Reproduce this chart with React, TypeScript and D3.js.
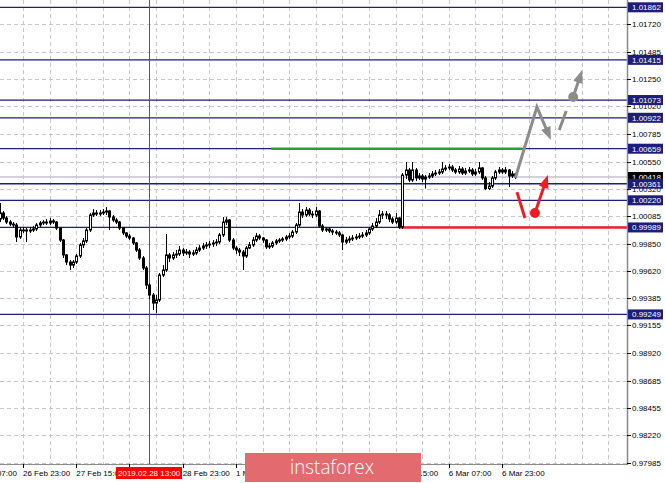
import * as d3 from "d3";

const W = 665;
const H = 483;
const PLOT_R = 627;
const PLOT_B = 464;

// hourly EURUSD-like bars, index 0 = 26 Feb 16:00
const firstOpen = 1.00061;
const closes = [
  1.00112, 1.00069, 1.00035, 1.00018, 1.0001, 0.99908, 0.99967, 0.99967, 0.99959, 0.99967,
  0.99976, 1.0001, 1.00027, 1.00035, 1.00027, 1.00044, 1.00035, 0.99984, 0.99882, 0.99755,
  0.99695, 0.99669, 0.99695, 0.99746, 0.9984, 0.99874, 0.99967, 1.00095, 1.00112, 1.00103,
  1.00112, 1.0012, 1.00129, 1.00078, 1.00052, 1.00035, 0.99984, 0.99942, 0.99916, 0.99899,
  0.99857, 0.99797, 0.99729, 0.99644, 0.99499, 0.99414, 0.99346, 0.99372, 0.99584, 0.99627,
  0.99755, 0.99729, 0.99755, 0.99763, 0.99797, 0.99772, 0.9978, 0.99763, 0.99772, 0.99797,
  0.99814, 0.99831, 0.9984, 0.99848, 0.99857, 0.99865, 0.99925, 1.00035, 1.00052, 0.99882,
  0.99814, 0.99797, 0.9978, 0.99746, 0.99814, 0.9984, 0.99882, 0.99916, 0.99899, 0.99882,
  0.99823, 0.99831, 0.99857, 0.99874, 0.99882, 0.99891, 0.99908, 0.99916, 0.9995, 1.0001,
  1.0012, 1.00095, 1.00137, 1.00103, 1.00095, 1.00129, 1.00001, 0.99967, 0.99976, 0.99959,
  0.9995, 0.99942, 0.99925, 0.99865, 0.99882, 0.99891, 0.99899, 0.99908, 0.99916, 0.99925,
  0.99942, 0.99976, 1.00001, 1.00035, 1.00095, 1.00103, 1.00095, 1.00061, 1.00035, 1.00069,
  0.99993, 1.00435, 1.00478, 1.00393, 1.00478, 1.0041, 1.00427, 1.00401, 1.00418, 1.00427,
  1.00444, 1.00452, 1.00461, 1.00486, 1.00495, 1.00503, 1.00478, 1.00461, 1.00486, 1.00452,
  1.00469, 1.00478, 1.00444, 1.00461, 1.00495, 1.0041, 1.0032, 1.00341, 1.0041, 1.00461,
  1.00478, 1.00461, 1.00478, 1.00427, 1.00444, 1.00418,
];
const highs = [
  1.00197, 1.00129, 1.00086, 1.00052, 1.00035, 1.00027, 0.99993, 0.99993, 0.99984, 0.99993,
  1.00001, 1.00027, 1.00044, 1.00052, 1.00061, 1.00069, 1.00061, 1.00044, 0.99993, 0.99891,
  0.99763, 0.99712, 0.99712, 0.99763, 0.99857, 0.99899, 0.99984, 1.00112, 1.00146, 1.00137,
  1.00137, 1.00146, 1.00163, 1.00137, 1.00095, 1.00069, 1.00044, 0.99993, 0.9995, 0.99933,
  0.99908, 0.99865, 0.99814, 0.99746, 0.99661, 0.99516, 0.99431, 0.99414, 0.99601, 0.99669,
  0.99933, 0.99772, 0.9978, 0.99797, 0.99831, 0.99814, 0.99806, 0.99797, 0.99797, 0.99823,
  0.9984, 0.99857, 0.99865, 0.99874, 0.99882, 0.99891, 0.99942, 1.00078, 1.00078, 1.00061,
  0.99899, 0.99831, 0.99814, 0.99797, 0.99831, 0.99865, 0.99908, 0.99942, 0.99933, 0.99908,
  0.99891, 0.99857, 0.99874, 0.99891, 0.99899, 0.99908, 0.99925, 0.99942, 0.99967, 1.00027,
  1.00197, 1.00146, 1.00163, 1.00154, 1.00129, 1.00163, 1.00137, 1.00018, 0.99993, 0.99993,
  0.99976, 0.99967, 0.99959, 0.99933, 0.99908, 0.99916, 0.99925, 0.99933, 0.99942, 0.9995,
  0.99967, 0.99993, 1.00027, 1.00069, 1.00137, 1.00129, 1.00129, 1.00112, 1.00078, 1.00112,
  1.00078, 1.00452, 1.00546, 1.00495, 1.00546, 1.00495, 1.00452, 1.00444, 1.00435, 1.00452,
  1.00469, 1.00478, 1.00486, 1.00546, 1.0052, 1.00529, 1.0052, 1.00495, 1.00512, 1.00503,
  1.00495, 1.00503, 1.00495, 1.00486, 1.00546, 1.00503, 1.00427, 1.00376, 1.00427, 1.00478,
  1.00503, 1.00495, 1.00503, 1.00486, 1.00469, 1.00452,
];
const lows = [
  1.00035, 1.00052, 1.00018, 1.00001, 0.99993, 0.99865, 0.99891, 0.99942, 0.99865, 0.99942,
  0.9995, 0.99959, 0.99993, 1.0001, 1.0001, 1.0001, 1.00018, 0.99967, 0.99865, 0.99729,
  0.99669, 0.99627, 0.99644, 0.99678, 0.99729, 0.99814, 0.99857, 0.9995, 1.00078, 1.00086,
  1.00086, 1.00095, 1.00095, 0.99967, 1.00035, 1.00018, 0.99967, 0.99925, 0.99899, 0.99882,
  0.9984, 0.9978, 0.99712, 0.99627, 0.99465, 0.9938, 0.99287, 0.99261, 0.99355, 0.99567,
  0.9961, 0.99695, 0.99712, 0.99729, 0.99746, 0.99746, 0.99755, 0.99729, 0.99746, 0.99755,
  0.9978, 0.99797, 0.99806, 0.99814, 0.99823, 0.99831, 0.99848, 0.99908, 1.0001, 0.99865,
  0.99797, 0.99763, 0.99746, 0.99627, 0.99729, 0.99806, 0.99823, 0.99865, 0.99882, 0.99857,
  0.99806, 0.99806, 0.99814, 0.9984, 0.99857, 0.99865, 0.99874, 0.99891, 0.99899, 0.99933,
  0.99993, 1.00069, 1.00078, 1.00086, 1.00069, 1.00078, 0.99984, 0.9995, 0.9995, 0.99942,
  0.99925, 0.99925, 0.99908, 0.99797, 0.99848, 0.99857, 0.99874, 0.99882, 0.99891, 0.99899,
  0.99908, 0.99925, 0.99959, 0.99984, 1.00018, 1.00061, 1.00061, 1.00035, 1.00018, 1.00018,
  0.99976, 0.99976, 1.00401, 1.00376, 1.00376, 1.00384, 1.00393, 1.00376, 1.0032, 1.00401,
  1.0041, 1.00427, 1.00435, 1.00444, 1.00469, 1.00478, 1.00461, 1.00444, 1.00444, 1.00435,
  1.00435, 1.00452, 1.00427, 1.00427, 1.00444, 1.00393, 1.00307, 1.00307, 1.00324, 1.00393,
  1.00444, 1.00444, 1.00444, 1.00333, 1.0041, 1.00401,
];

const gridPrices = [
  1.0172, 1.01485, 1.0125, 1.0102, 1.00785, 1.0055, 1.0032, 1.00085, 0.9985, 0.9962,
  0.99385, 0.99155, 0.9892, 0.98685, 0.98455, 0.9822, 0.97985,
];
const levelPrices = [1.01862, 1.01415, 1.01073, 1.00922, 1.00659, 1.00361, 1.0022, 0.99989, 0.99249];
const bidPrice = 1.00418;
const greenLevel = { price: 1.00659, from: 81.6, to: 157.3 };
const redLevel = { price: 0.99989, from: 120.3 };

// time axis ticks every 16 bars; labels hidden under the date box / watermark are left blank
const timeTickIdx = [-9, 7, 23, 39, 55, 71, 87, 103, 119, 135, 151];
const timeTickLabels = [
  "26 Feb 07:00", "26 Feb 23:00", "27 Feb 15:00", "", "28 Feb 23:00",
  "1 Mar 15:00", "", "", "5 Mar 15:00", "6 Mar 07:00", "6 Mar 23:00",
];
const crossIdx = 45;
const crossLabel = "2019.02.28 13:00";

// forecast arrows, [bar index, price]
const grayZig: [number, number][] = [[155, 1.0041], [161.5, 1.01014], [165.7, 1.00733]];
const grayDash: [number, number][] = [[168.2, 1.00818], [170.3, 1.0098]];
const grayDot: [number, number] = [172.4, 1.01099];
const grayTip: [number, number] = [175.1, 1.01328];
const redStroke: [number, number][] = [[155.5, 1.0029], [157.9, 1.00069]];
const redDot: [number, number] = [160.9, 1.00112];
const redTip: [number, number] = [164.8, 1.00435];

const x = d3.scaleLinear().domain([7, 151]).range([23, 502]);
const y = d3.scaleLinear().domain([0.97985, 1.0172]).range([463, 24]);

const NAVY = "#1d1d7a";
const FONT = "'Liberation Sans', Arial, sans-serif";

function head(from: [number, number], to: [number, number], len = 13, half = 5) {
  const dx = to[0] - from[0];
  const dy = to[1] - from[1];
  const d = Math.hypot(dx, dy) || 1;
  const ux = dx / d, uy = dy / d;
  const bx = to[0] - ux * len, by = to[1] - uy * len;
  return {
    tri: `M${to[0]},${to[1]}L${bx - uy * half},${by + ux * half}L${bx + uy * half},${by - ux * half}Z`,
    base: [bx + ux * 2, by + uy * 2] as [number, number],
  };
}

const px = (p: [number, number]): [number, number] => [x(p[0]), y(p[1])];

export default function App() {
  const line = d3.line<[number, number]>();

  const zig = grayZig.map(px);
  const zigHead = head(zig[1], zig[2]);
  const zigLine = line([zig[0], zig[1], zigHead.base]);
  const gDot = px(grayDot);
  const gTip = px(grayTip);
  const gHead = head(gDot, gTip);
  const rDot = px(redDot);
  const rTip = px(redTip);
  const rHead = head(rDot, rTip);

  const vGrid = d3.range(-1, 200, 8).filter((i) => x(i) < PLOT_R);

  return (
    <svg width={W} height={H} style={{ position: "absolute", left: 0, top: 0, background: "#fff" }} fontFamily={FONT}>
      <defs>
        <clipPath id="plot">
          <rect x={0} y={0} width={PLOT_R} height={PLOT_B} />
        </clipPath>
        <clipPath id="lbl27">
          <rect x={0} y={PLOT_B} width={116} height={H - PLOT_B} />
        </clipPath>
      </defs>
      <g clipPath="url(#plot)">
        {gridPrices.map((p) => (
          <line key={"h" + p} x1={0} x2={PLOT_R} y1={Math.round(y(p)) + 0.5} y2={Math.round(y(p)) + 0.5}
            stroke="#c8c8c8" strokeDasharray="4,3" />
        ))}
        {vGrid.map((i) => (
          <line key={"v" + i} x1={Math.round(x(i)) + 0.5} x2={Math.round(x(i)) + 0.5} y1={0} y2={PLOT_B}
            stroke="#c8c8c8" strokeDasharray="4,3" />
        ))}
        <line x1={0} x2={PLOT_R} y1={y(bidPrice)} y2={y(bidPrice)} stroke="#c4c4c4" strokeWidth={1.5} />
        {levelPrices.map((p) => (
          <line key={"l" + p} x1={0} x2={PLOT_R} y1={y(p)} y2={y(p)} stroke={NAVY} strokeWidth={1.3} />
        ))}
        <line x1={x(greenLevel.from)} x2={x(greenLevel.to)} y1={y(greenLevel.price)} y2={y(greenLevel.price)}
          stroke="#21a23c" strokeWidth={2.5} />
        <line x1={x(redLevel.from)} x2={PLOT_R} y1={y(redLevel.price)} y2={y(redLevel.price)}
          stroke="#f2202c" strokeWidth={2.5} />
        <line x1={Math.round(x(crossIdx)) + 0.5} x2={Math.round(x(crossIdx)) + 0.5} y1={0} y2={PLOT_B}
          stroke="#e02020" strokeWidth={1} />

        {closes.map((c, i) => {
          const o = i === 0 ? firstOpen : closes[i - 1];
          const r = Math.round(x(i));
          const top = y(Math.max(o, c));
          const bot = y(Math.min(o, c));
          const bull = c >= o;
          return (
            <g key={"c" + i}>
              <line x1={r + 0.5} x2={r + 0.5} y1={y(highs[i])} y2={y(lows[i])} stroke="#000" strokeWidth={1} />
              <rect x={r - 0.5} y={top} width={2} height={Math.max(bot - top, 0.8)}
                fill={bull ? "#fff" : "#000"} stroke="#000" strokeWidth={1} />
            </g>
          );
        })}

        <path d={zigLine ?? ""} fill="none" stroke="#8c8c8c" strokeWidth={3} strokeLinejoin="miter" />
        <path d={zigHead.tri} fill="#8c8c8c" />
        <path d={line(grayDash.map(px)) ?? ""} stroke="#8c8c8c" strokeWidth={3} />
        <circle cx={gDot[0]} cy={gDot[1]} r={5} fill="#8c8c8c" />
        <path d={line([gDot, gHead.base]) ?? ""} stroke="#8c8c8c" strokeWidth={3} />
        <path d={gHead.tri} fill="#8c8c8c" />

        <path d={line(redStroke.map(px)) ?? ""} stroke="#ee1c25" strokeWidth={3} />
        <circle cx={rDot[0]} cy={rDot[1]} r={5} fill="#ee1c25" />
        <path d={line([rDot, rHead.base]) ?? ""} stroke="#ee1c25" strokeWidth={3} />
        <path d={rHead.tri} fill="#ee1c25" />
      </g>

      {/* axes */}
      <line x1={PLOT_R + 0.5} x2={PLOT_R + 0.5} y1={0} y2={PLOT_B + 1} stroke="#8a8a8a" strokeWidth={1.5} />
      <line x1={0} x2={PLOT_R + 1} y1={PLOT_B + 0.5} y2={PLOT_B + 0.5} stroke="#8a8a8a" strokeWidth={1} />

      {gridPrices.map((p) => (
        <g key={"pt" + p}>
          <line x1={PLOT_R} x2={PLOT_R + 4} y1={Math.round(y(p)) + 0.5} y2={Math.round(y(p)) + 0.5} stroke="#000" />
          <text x={632} y={y(p) + 3} fontSize={8} fill="#000">{p.toFixed(5)}</text>
        </g>
      ))}

      <rect x={628} y={y(bidPrice) - 5} width={35} height={10} fill="#000" />
      <text x={632} y={y(bidPrice) + 3} fontSize={8} fill="#fff">{bidPrice.toFixed(5)}</text>
      {levelPrices.map((p) => (
        <g key={"lb" + p}>
          <rect x={628} y={y(p) - 5} width={35} height={10} fill={NAVY} />
          <text x={632} y={y(p) + 3} fontSize={8} fill="#fff">{p.toFixed(5)}</text>
        </g>
      ))}

      {timeTickIdx.map((i, k) => (
        <g key={"tt" + i}>
          <line x1={Math.round(x(i)) + 0.5} x2={Math.round(x(i)) + 0.5} y1={PLOT_B} y2={PLOT_B + 4} stroke="#000" />
          {timeTickLabels[k] && (
            <text x={x(i)} y={476} fontSize={8} fill="#000"
              clipPath={timeTickLabels[k] === "27 Feb 15:00" ? "url(#lbl27)" : undefined}>
              {timeTickLabels[k]}
            </text>
          )}
        </g>
      ))}
      <rect x={116} y={467} width={66} height={12} fill="#ff0000" />
      <text x={118} y={476} fontSize={8} fill="#fff">{crossLabel}</text>

      {/* watermark */}
      <rect x={245} y={453} width={176} height={29} fill="#e36a6f" />
      <text x={290} y={474} fontSize={21} fill="#fff" fontFamily="'Open Sans', sans-serif" fontWeight={300}
        textLength={84} lengthAdjust="spacingAndGlyphs">instaforex</text>
    </svg>
  );
}
